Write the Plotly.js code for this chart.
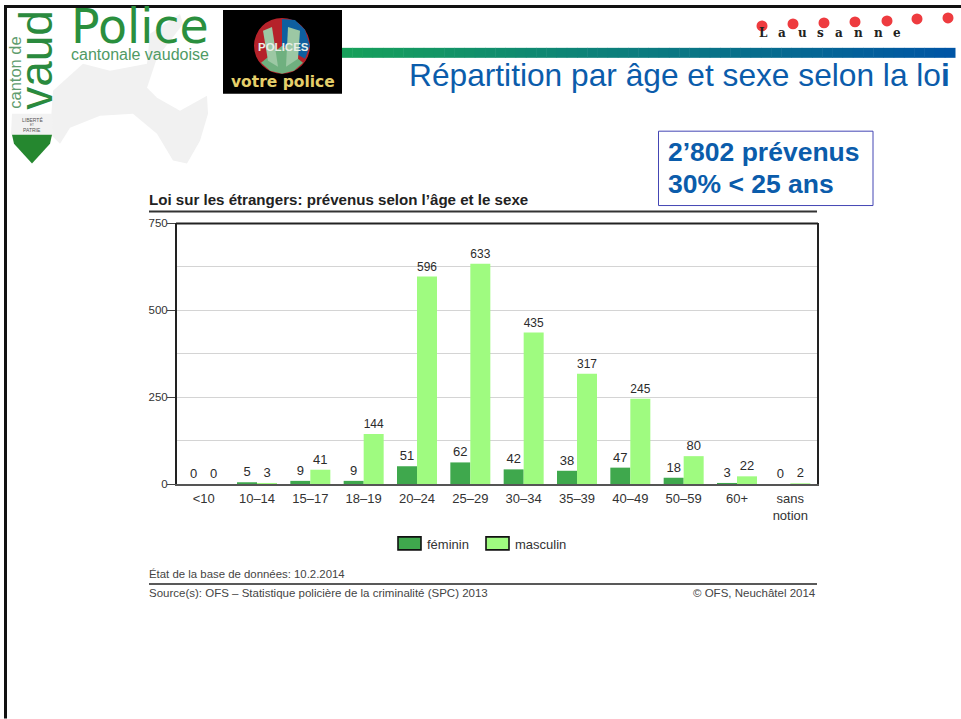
<!DOCTYPE html>
<html><head><meta charset="utf-8">
<script src="https://cdn.plot.ly/plotly-3.0.1.min.js"></script>
<style>html,body{margin:0;padding:0;background:#fff;overflow:hidden}</style>
</head><body><div id="chart" style="width:961px;height:719px"></div>
<script>
var categories = ['<10','10–14','15–17','18–19','20–24','25–29','30–34','35–39','40–49','50–59','60+','sans<br>notion'];
var feminin = [0,5,9,9,51,62,42,38,47,18,3,0];
var masculin = [0,3,41,144,596,633,435,317,245,80,22,2];
var seriesNames = ['féminin','masculin'];
var yTicks = [0,250,500,750];
var yMinorTicks = [125,375,625];
var slideTitle = 'Répartition par âge et sexe selon la lo<b>i</b>';
var chartTitle = 'Loi sur les étrangers: prévenus selon l’âge et le sexe';
var boxLines = ['2’802 prévenus','30% < 25 ans'];
var stateNote = 'État de la base de données: 10.2.2014';
var sourceNote = 'Source(s): OFS – Statistique policière de la criminalité (SPC) 2013';
var copyNote = '© OFS, Neuchâtel 2014';

var L=177,R=817,T=222.5,B=484;
function X(x){return (x-L)/(R-L);}
function Y(y){return (B-y)/(B-T);}
function rect(x0,y0,x1,y1,fill,line,lw,layer){return {type:'rect',xref:'paper',yref:'paper',x0:X(x0),x1:X(x1),y0:Y(y1),y1:Y(y0),fillcolor:fill,line:{color:line||fill,width:lw===undefined?0:lw},layer:layer||'above'};}
function circ(cx,cy,r,fill){return {type:'circle',xref:'paper',yref:'paper',x0:X(cx-r),x1:X(cx+r),y0:Y(cy+r),y1:Y(cy-r),fillcolor:fill,line:{width:0},layer:'above'};}
function poly(pts,fill,layer){return {type:'path',xref:'paper',yref:'paper',path:'M'+pts.map(function(p){return X(p[0])+','+Y(p[1]);}).join('L')+'Z',fillcolor:fill,line:{width:0},layer:layer||'above'};}
function txt(x,y,s,size,color,anchor,opts){opts=opts||{};return {xref:'paper',yref:'paper',x:X(x),y:Y(y),text:s,showarrow:false,xanchor:anchor||'left',yanchor:'middle',borderpad:0,borderwidth:0,textangle:opts.angle||0,
  font:{size:size,color:color,family:opts.family||'"Liberation Sans",Arial,sans-serif'}};}

var shapes=[], ann=[];
// page frame
shapes.push(rect(4,4,961,7,'#111'));
shapes.push(rect(4,4,7,719,'#111'));
// map silhouette
shapes.push(poly([[53,90],[83,63],[110,70],[147,63],[150,33],[180,13],[183,23],[157,57],[147,87],[157,97],[180,110],[207,95],[208,113],[200,140],[187,163],[173,160],[157,133],[133,113],[100,115],[70,127],[60,143],[50,133]],'#f1f1f1','below'));
// gradient band
var bandSteps=60,gA=[22,160,90],gB=[0,85,165];
for(var i=0;i<bandSteps;i++){var t=i/(bandSteps-1);
  var c='rgb('+gA.map(function(v,k){return Math.round(v+(gB[k]-v)*t);}).join(',')+')';
  shapes.push(rect(342+i*613/bandSteps,47,342+(i+1)*613/bandSteps+0.5,57,c));}
// shield
shapes.push(poly([[12,113],[52,113],[53,134],[11,134]],'#f2f2f2'));
shapes.push(poly([[12,134],[52,134],[50,143],[32,163],[14,143]],'#25872f'));
// votre police logo
shapes.push(rect(223,9,342,93,'#000'));
shapes.push(circ(282,45,28,'#b5222a'));
shapes.push(poly([[282,18],[295,19],[305,29],[310,45],[305,58],[282,45]],'#0f5f9f'));
shapes.push(poly([[261,62],[270,70],[282,73],[294,70],[303,62],[282,45]],'#6fb07f'));
shapes.push(poly([[263,30],[272,26],[278,66],[268,60]],'#9cc8a4'));
shapes.push(poly([[288,26],[300,30],[298,58],[286,66]],'#9cc8a4'));
// Lausanne dots
var dotsX=[762,793,824,855,887,917,948],dotsY=[25,23,22,21,20,18,17];
dotsX.forEach(function(x,i){shapes.push(circ(x,dotsY[i],5.5,'#ee3b3f'));});
// callout box
shapes.push(rect(658.5,130.5,873,205,'rgba(255,255,255,0)','#4446b4',1));
// chart rules
shapes.push(rect(149,210,817,212,'#333'));
shapes.push(rect(149,583.5,817,585,'#222'));
// top edge of the plot frame
shapes.push(rect(176,222,818,224,'#222'));
// legend swatches
shapes.push(rect(398,537,421,550,'#3fa84d','#111',1.6));
shapes.push(rect(486,537,509,550,'#9ffb80','#111',1.6));

// logo text
ann.push(txt(36,59,'vaud',46,'#2a8a3e','center',{angle:-90}));
ann.push(txt(15,72,'canton de',16.5,'#5f9c6e','center',{angle:-90}));
ann.push(txt(71,26,'Police',47.5,'#2a8f3e','left',{family:'"DejaVu Sans",sans-serif'}));
ann.push(txt(71,54,'cantonale vaudoise',16,'#4f9a64'));
ann.push(txt(32,119,'LIBERTÉ',5,'#555','center'));
ann.push(txt(32,124,'ET',3,'#555','center'));
ann.push(txt(32,129,'PATRIE',5,'#555','center'));
ann.push(txt(283,46,'<b>POLICES</b>',11.5,'#e8efe8','center'));
ann.push(txt(283,81,'<b>votre police</b>',15.5,'#e5cf6b','center',{family:'"DejaVu Sans",sans-serif'}));
// Lausanne letters
var lausanne=['L','a','u','s','a','n','n','e'],lausX=[763,782,802,820,839,858,878,897];
lausanne.forEach(function(ch,i){ann.push(txt(lausX[i],32,'<b>'+ch+'</b>',12,'#222','center',{family:'"DejaVu Serif",serif'}));});
// titles
ann.push(txt(409,74.5,slideTitle,31.7,'#0b5cab'));
ann.push(txt(668,151,'<b>'+boxLines[0]+'</b>',26.5,'#0b5cab'));
ann.push(txt(668,183.5,'<b>'+boxLines[1].replace('<','&lt;')+'</b>',26.5,'#0b5cab'));
ann.push(txt(149,199,'<b>'+chartTitle+'</b>',15.1,'#222'));
// legend text
ann.push(txt(427,545,seriesNames[0],13,'#333'));
ann.push(txt(515,545,seriesNames[1],13,'#333'));
// footer
ann.push(txt(149,574,stateNote,11.4,'#444'));
ann.push(txt(149,593,sourceNote,11.5,'#444'));
ann.push(txt(816,593,copyNote,11.5,'#444','right'));

var labelFont={size:13,color:'#2b2b2b',family:'"Liberation Sans",Arial,sans-serif'};
var traces=[
 {type:'bar',name:seriesNames[0],x:categories,y:feminin,text:feminin.map(String),textposition:'outside',cliponaxis:false,textfont:labelFont,marker:{color:'#3fa84d'},showlegend:false},
 {type:'bar',name:seriesNames[1],x:categories,y:masculin,text:masculin.map(String),textposition:'outside',cliponaxis:false,textfont:labelFont,marker:{color:'#9ffb80'},showlegend:false}
];
var layout={width:961,height:719,margin:{l:L,r:961-R,t:T,b:719-B,pad:0},paper_bgcolor:'#fff',plot_bgcolor:'rgba(0,0,0,0)',
 barmode:'group',bargap:0.25,bargroupgap:0,showlegend:false,
 font:{family:'"Liberation Sans",Arial,sans-serif',color:'#333'},
 xaxis:{type:'category',tickfont:{size:13,color:'#333'},ticks:'',showline:true,linecolor:'#555',linewidth:2,mirror:false,showgrid:false,zeroline:false,ticklabelstandoff:1,tickangle:0,automargin:false},
 yaxis:{range:[0,750],tickmode:'array',tickvals:yTicks,ticktext:yTicks.map(String),tickfont:{size:11.5,color:'#333'},ticks:'outside',ticklen:8,tickwidth:1,tickcolor:'#444',ticklabelstandoff:-3,showline:true,linecolor:'#222',linewidth:2,mirror:true,showgrid:true,gridcolor:'#d4d4d4',gridwidth:1,zeroline:false,automargin:false,
   minor:{tickmode:'array',tickvals:yMinorTicks,showgrid:true,gridcolor:'#d4d4d4',gridwidth:1,ticks:''}},
 shapes:shapes,annotations:ann};
Plotly.newPlot('chart',traces,layout,{displayModeBar:false,staticPlot:true});
</script></body></html>
